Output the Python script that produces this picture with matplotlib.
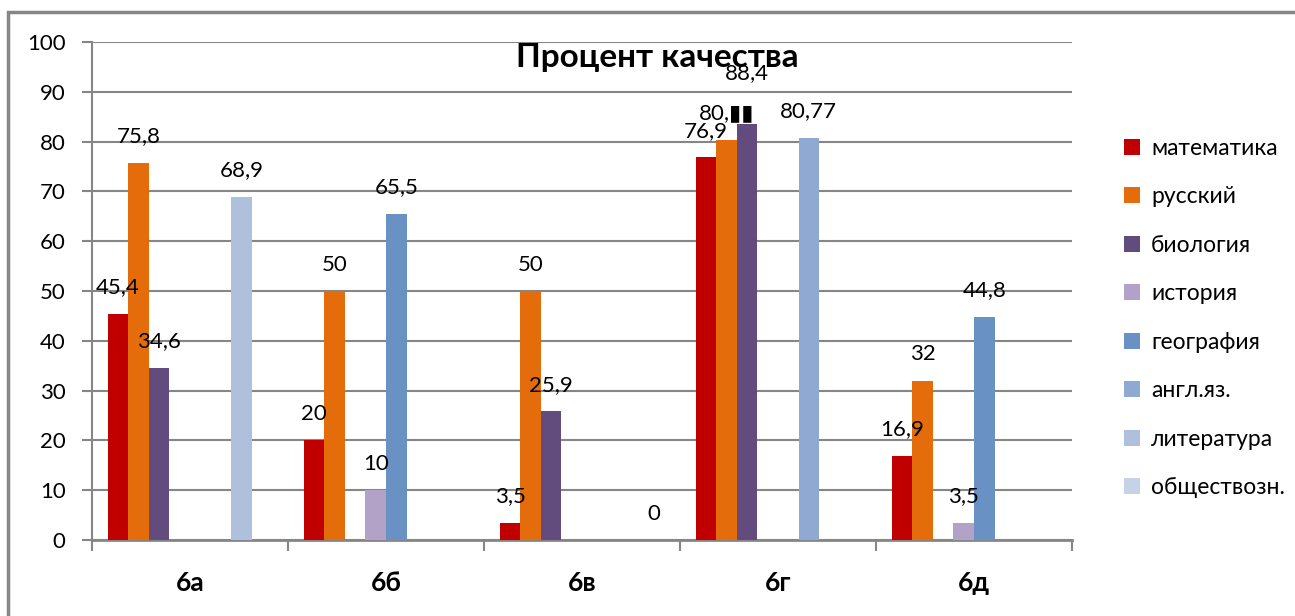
import numpy as np
import matplotlib.pyplot as plt
from matplotlib.patches import Rectangle, Patch

plt.rcParams['font.family'] = ['Lato', 'DejaVu Sans']

# classes and subjects
classes = ["6а", "6б", "6в", "6г", "6д"]
subjects = ["математика", "русский", "биология", "история",
            "география", "англ.яз.", "литература", "обществозн."]

# bar heights per subject (None = no bar)
math_vals = [45.4, 20, 3.5, 76.9, 16.9]
rus_vals = [75.8, 50, 50, 80.4, 32]
bio_vals = [34.6, None, 25.9, 83.5, None]
hist_vals = [None, 10, None, None, 3.5]
geo_vals = [None, 65.5, None, None, 44.8]
eng_vals = [None, None, None, 80.77, None]
lit_vals = [68.9, None, None, None, None]
soc_vals = [None, None, 0, None, None]

series = [math_vals, rus_vals, bio_vals, hist_vals,
          geo_vals, eng_vals, lit_vals, soc_vals]

# labels that differ from the bar height in the original
label_override = {(1, 3): "80,\u25ae\u25ae", (2, 3): "88,4"}

colors = ["#C00000", "#E46C0A", "#624C7E", "#B3A2C7",
          "#6A91C4", "#8FA9D2", "#AFC0DC", "#C6D3E7"]

fig = plt.figure(figsize=(12.95, 6.16), dpi=100)
ax = fig.add_axes([92/1295, 1-540/616, (1072-92)/1295, (540-42)/616])

bw = 0.105
x = np.arange(len(classes))
for i, vals in enumerate(series):
    for j, v in enumerate(vals):
        if v is None:
            continue
        xpos = x[j] - 4*bw + bw/2 + i*bw
        ax.bar(xpos, v, width=bw, color=colors[i], zorder=3)
        lab = label_override.get((i, j), ("%g" % v).replace(".", ","))
        off = 19
        if (i, j) == (2, 3):
            off = 37
        ax.annotate(lab, (xpos, v), xytext=(0, off), textcoords="offset points",
                    ha="center", va="center", fontsize=16, color="black",
                    family=['Lato', 'DejaVu Sans'], zorder=5)

ax.set_xlim(-0.5, 4.5)
ax.set_ylim(0, 100)
ax.set_yticks(range(0, 101, 10))
ax.yaxis.grid(True, color="#868686", linewidth=1.5, zorder=0)
ax.set_axisbelow(True)
for s in ["top", "right"]:
    ax.spines[s].set_visible(False)
ax.spines["left"].set_color("#868686")
ax.spines["bottom"].set_color("#868686")
ax.spines["left"].set_linewidth(1.5)
ax.spines["bottom"].set_linewidth(2)

ax.set_xticks(x)
ax.set_xticklabels(classes, fontsize=19, fontweight="bold")
ax.tick_params(axis="x", length=0, pad=22)
ax.set_xticks(np.arange(-0.5, 5, 1), minor=True)
ax.tick_params(axis="x", which="minor", length=8, width=1.5, color="#868686")
ax.tick_params(axis="y", length=7, width=1.5, color="#868686", labelsize=16, pad=12)

fig.text(657/1295, 1-57/616, "Процент качества", ha="center", va="center",
         fontsize=24, fontweight="bold")

handles = [Patch(facecolor=c) for c in colors]
fig.legend(handles, subjects, loc="center left", bbox_to_anchor=(1103/1295, 1-318/616),
           frameon=False, fontsize=16.5, handlelength=0.7, handleheight=0.7,
           handletextpad=0.5, labelspacing=1.2)

# outer chart frame
fig.patches.append(Rectangle((8/1295, -0.05), 1.1, 1.05 - 12/616,
                             transform=fig.transFigure, fill=False,
                             edgecolor="#868686", linewidth=2.5))

fig.savefig("out.png", dpi=100)
